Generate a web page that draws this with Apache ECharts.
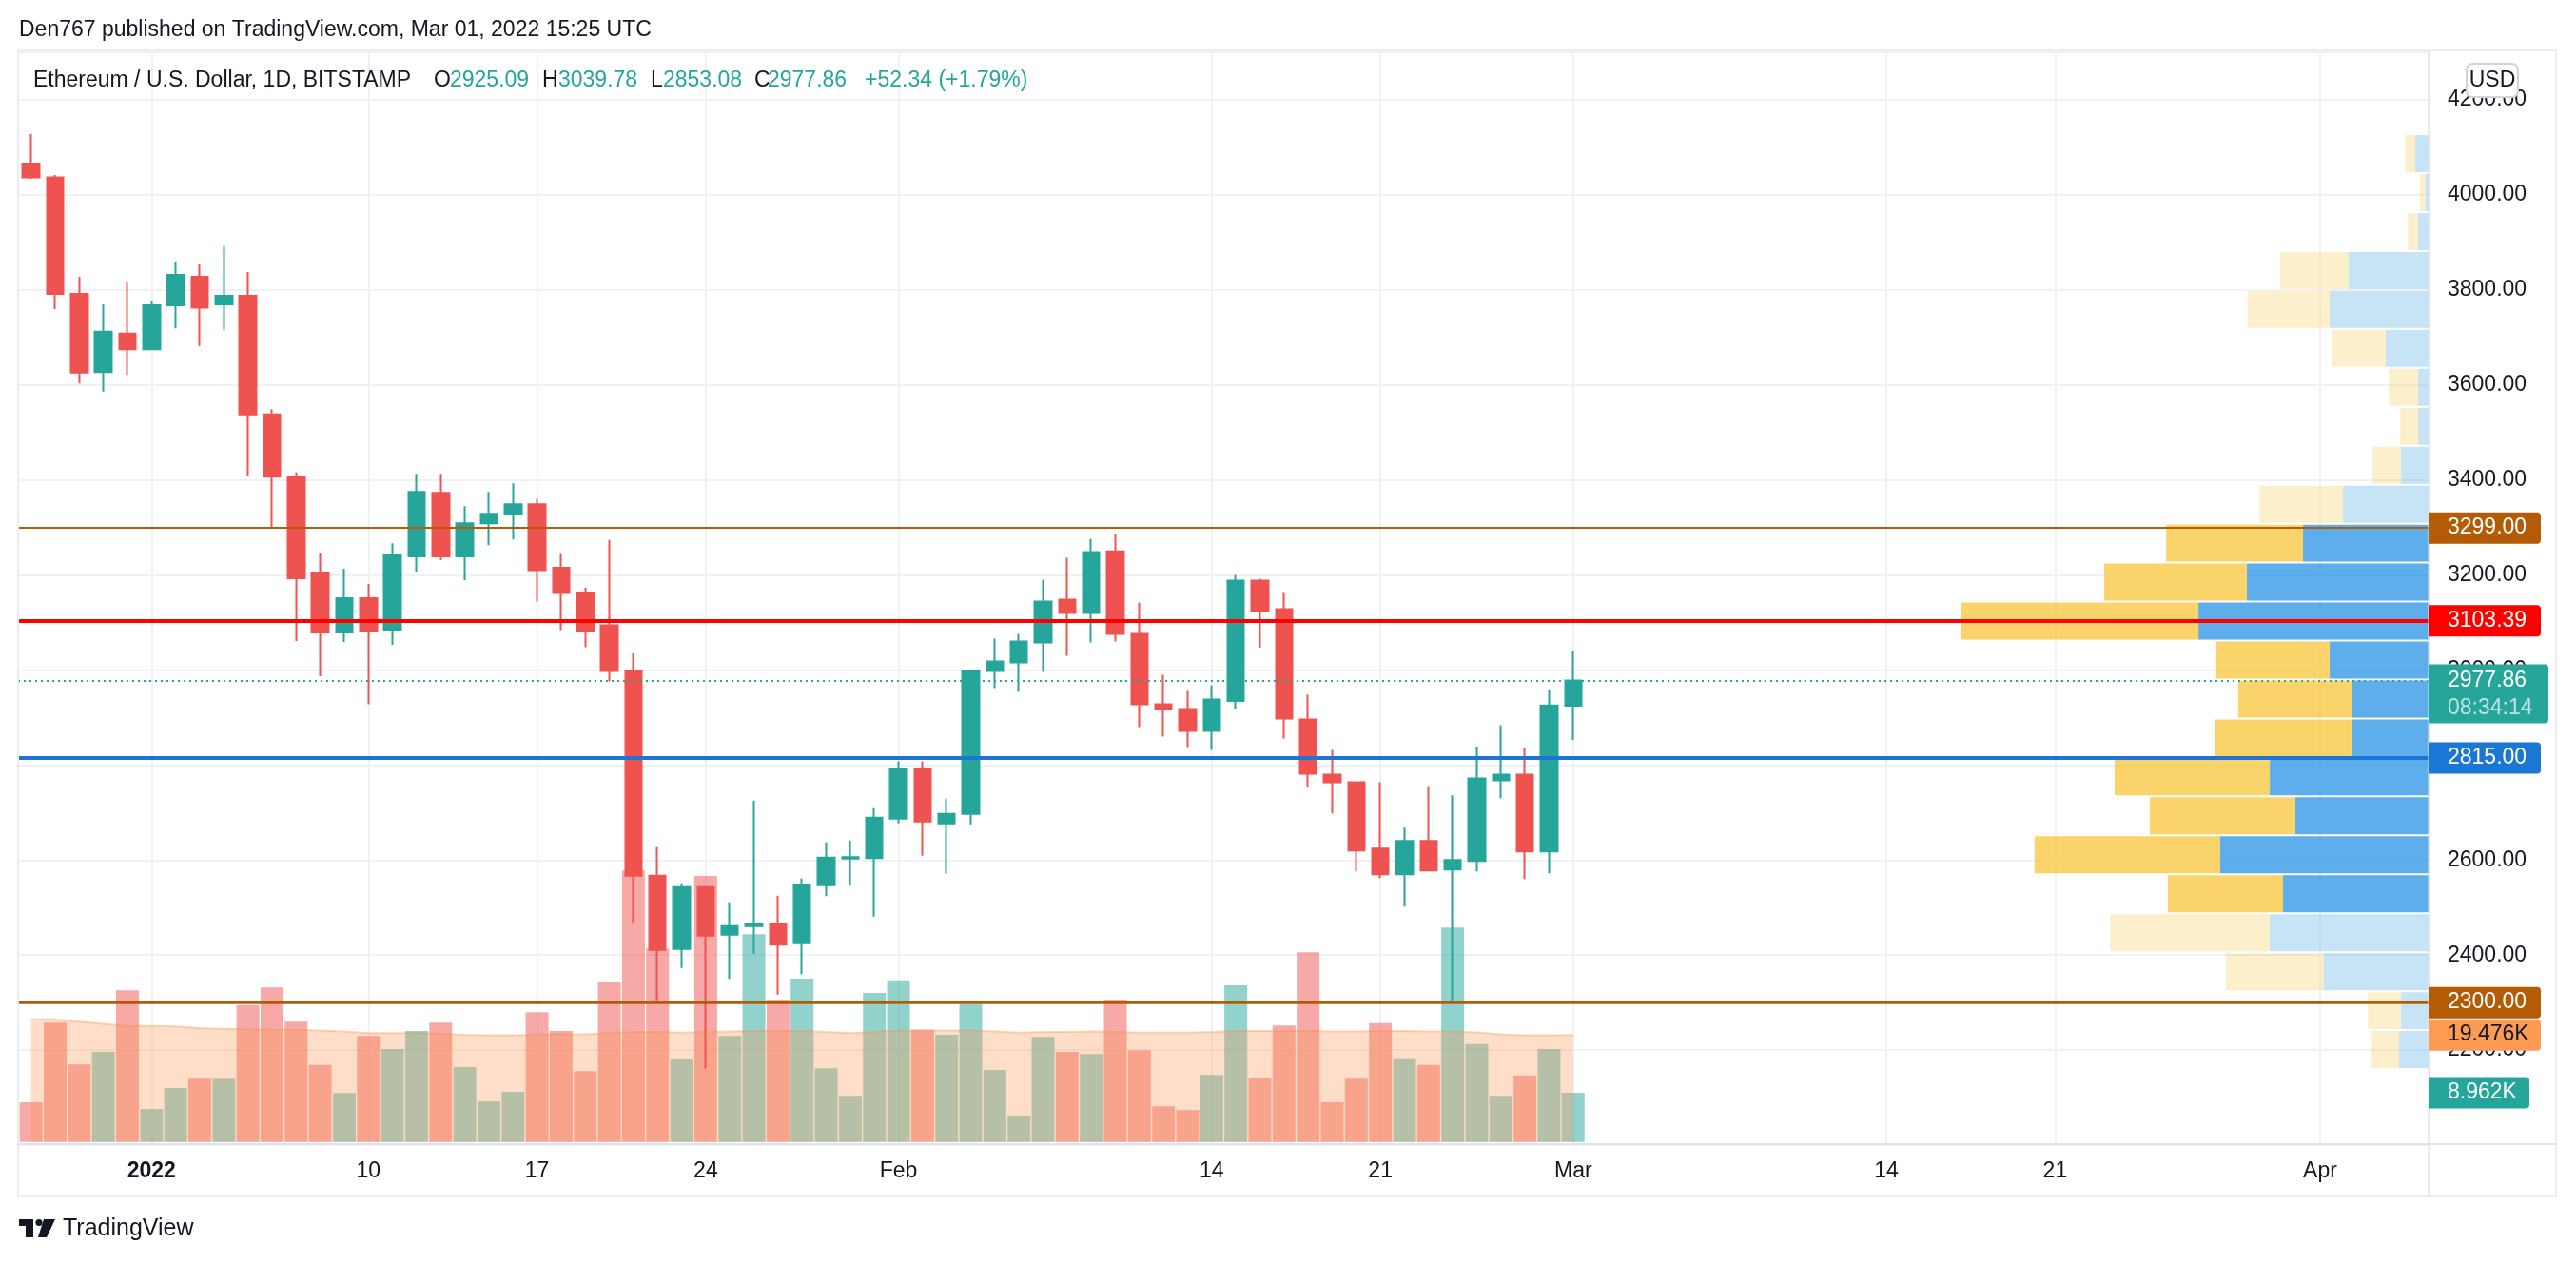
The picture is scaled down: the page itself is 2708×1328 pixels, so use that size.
<!DOCTYPE html>
<html>
<head>
<meta charset="utf-8">
<script src="https://cdn.jsdelivr.net/npm/echarts@6/dist/echarts.min.js"></script>
<style>
html,body{margin:0;padding:0;background:#ffffff;}
#c{width:2708px;height:1328px;}
</style>
</head>
<body>
<div id="c"></div>
<script>
// ---------------- DATA ----------------
// daily candles from 2021-12-27 to 2022-03-01 (65 days); axis extends to 2022-04-05
const opens  = [4066,4037,3792,3627,3708,3675,3768,3828,3770,3788,3538,3407,3205,3079,3151,3083,3239,3373,3239,3309,3328,3349,3215,3163,3094,2999,2567,2413,2543,2443,2461,2465,2425,2547,2603,2604,2687,2793,2677,2697,2998,3016,3058,3148,3120,3250,3076,2928,2918,2872,2935,3188,3128,2896,2780,2764,2624,2570,2640,2580,2598,2768,2780,2618,2925.09];
const highs  = [4128,4042,3828,3770,3816,3778,3858,3854,3892,3838,3549,3416,3247,3213,3181,3267,3413,3413,3345,3375,3393,3360,3246,3173,3274,3035,2627,2551,2545,2511,2725,2525,2561,2637,2641,2709,2808,2808,2729,2999,3066,3076,3190,3236,3276,3286,3142,2990,2956,2968,3200,3192,3164,2948,2832,2766,2764,2668,2756,2736,2839,2884,2836,2958,3039.78];
const lows   = [4034,3760,3603,3586,3621,3673,3719,3682,3716,3409,3300,3061,2987,3059,2928,3053,3207,3231,3189,3263,3275,3144,3084,3048,2976,2467,2301,2373,2161,2350,2403,2317,2360,2524,2546,2481,2677,2609,2571,2675,2962,2954,2996,3030,3058,3060,2880,2860,2838,2832,2917,3047,2856,2754,2698,2576,2562,2502,2577,2302,2576,2730,2560,2572,2853.08];
const closes = [4037,3792,3626,3712,3675,3768,3832,3763,3788,3538,3407,3193,3079,3151,3081,3243,3375,3239,3309,3329,3349,3210,3162,3081,2998,2567,2411,2543,2441,2461,2465,2422,2547,2605,2606,2689,2791,2681,2697,2997,3018,3060,3144,3120,3248,3076,2928,2917,2872,2938,3188,3123,2898,2782,2764,2620,2570,2640,2578,2600,2772,2780,2618,2925.52,2977.86];
// volume in thousands
const volumes = [7.2,21.7,14.1,16.4,27.6,6.0,9.8,11.5,11.5,24.9,28.1,21.9,14.0,8.9,19.3,16.9,20.2,21.7,13.6,7.4,9.1,23.6,20.2,12.9,29.0,49.4,35.2,15.0,48.4,19.3,37.8,25.9,29.7,13.4,8.4,27.1,29.4,20.4,19.5,25.1,13.1,4.8,19.1,16.4,16.0,25.9,16.7,6.5,5.8,12.2,28.5,11.7,21.2,34.5,7.2,11.5,21.6,15.2,14.0,39.0,17.8,8.4,12.1,16.9,8.962];
const volumeMA = [22.3,22.3,21.9,21.5,21.1,21.1,21.0,20.7,20.6,20.5,20.4,20.4,20.3,20.1,19.8,19.8,19.8,19.7,19.5,19.4,19.4,19.5,19.6,19.6,19.8,20.0,20.0,19.9,20.0,20.1,20.2,20.2,20.2,20.0,19.8,20.0,20.3,20.3,20.3,20.3,20.1,19.9,20.0,20.0,20.1,20.0,19.9,19.9,19.9,20.0,20.2,20.2,20.2,20.2,20.1,20.1,20.2,20.2,20.1,20.1,19.95,19.6,19.4,19.43,19.476];
// volume profile rows (bottom to top)
const profileLow  = [2160,2242,2324,2406,2488,2570,2652,2734,2816,2898,2980,3062,3144,3226,3308,3390,3472,3554,3636,3718,3800,3882,3964,4046];
const profileHigh = [2242,2324,2406,2488,2570,2652,2734,2816,2898,2980,3062,3144,3226,3308,3390,3472,3554,3636,3718,3800,3882,3964,4046,4128];
const profileUp   = [12.2,11.4,43.6,65.9,60.4,86.5,55.3,65.9,32.0,31.6,41.1,95.5,75.4,52.1,35.5,11.4,4.3,4.3,17.8,41.1,33.2,4.3,1.2,5.5];
const profileDown = [11.8,13.8,40.5,66.3,47.8,77.0,60.4,64.4,56.5,47.4,47.0,98.7,59.2,56.8,34.7,11.8,7.5,12.2,22.5,34.0,28.4,4.3,2.4,4.3];
const valueArea   = [0,0,0,0,1,1,1,1,1,1,1,1,1,1,0,0,0,0,0,0,0,0,0,0];
// drawn horizontal levels
const levels = [3299, 3103.39, 2815, 2300];
// time axis ticks
const tickDates  = ['2022-01-01','2022-01-10','2022-01-17','2022-01-24','2022-02-01','2022-02-14','2022-02-21','2022-03-01','2022-03-14','2022-03-21','2022-04-01'];
const tickLabels = ['2022','10','17','24','Feb','14','21','Mar','14','21','Apr'];

// ---------------- BUILD ----------------
const FONT = '"Liberation Sans", Arial, sans-serif';
const TXT = '#131722';
const UP = '#26a69a', DOWN = '#ef5350';

const categories = [];
(function(){
  const start = Date.UTC(2021, 11, 27);
  for (let i = 0; i < 100; i++) categories.push(new Date(start + i * 86400000).toISOString().slice(0, 10));
})();
const tickMap = {};
tickDates.forEach((d, i) => { tickMap[d] = tickLabels[i]; });

const candleData = opens.map((o, i) => [o, closes[i], lows[i], highs[i]]);
const volData = volumes.map((v, i) => ({
  value: v,
  itemStyle: { color: closes[i] >= opens[i] ? 'rgba(38,166,154,0.5)' : 'rgba(239,83,80,0.5)' }
}));
const profileData = profileLow.map((lo, k) => [lo, profileHigh[k], profileUp[k], profileDown[k], valueArea[k]]);
const lastClose = closes[closes.length - 1];

function renderProfile(params, api) {
  const lo = api.value(0), hi = api.value(1), up = api.value(2), dn = api.value(3), va = api.value(4);
  const a = api.coord([0, hi]);
  const b = api.coord([up, lo]);
  const c = api.coord([up + dn, lo]);
  const top = a[1] + 1, h = (b[1] - a[1]) - 2;
  return {
    type: 'group',
    children: [
      { type: 'rect', shape: { x: b[0], y: top, width: a[0] - b[0], height: h },
        style: { fill: va ? 'rgba(39,147,227,0.75)' : 'rgba(68,162,225,0.3)' } },
      { type: 'rect', shape: { x: c[0], y: top, width: b[0] - c[0], height: h },
        style: { fill: va ? 'rgba(248,198,58,0.75)' : 'rgba(245,202,85,0.3)' } }
    ]
  };
}

const chart = echarts.init(document.getElementById('c'), null, { renderer: 'canvas' });

const GL = 20, GW = 2533;
const option = {
  animation: false,
  backgroundColor: '#ffffff',
  textStyle: { fontFamily: FONT },
  grid: [
    { left: GL, width: GW, top: 55.15, height: 1148.85 },
    { left: GL, width: GW, top: 622.8, height: 577.9 },
    { left: GL, width: GW, top: 55.15, height: 1148.85 }
  ],
  xAxis: [
    {
      type: 'category', gridIndex: 0, data: categories, boundaryGap: true,
      axisLine: { show: false }, axisTick: { show: false }, splitLine: { show: false },
      axisLabel: {
        interval: (i, v) => tickMap[v] !== undefined,
        formatter: v => (v === '2022-01-01' ? '{b|2022}' : (tickMap[v] || '')),
        color: TXT, fontSize: 23, fontFamily: FONT, margin: 16,
        rich: { b: { fontWeight: 'bold', fontSize: 23, fontFamily: FONT, color: TXT } }
      }
    },
    { type: 'category', gridIndex: 1, data: categories, show: false },
    { type: 'value', gridIndex: 2, min: 0, max: 1000, inverse: true, show: false }
  ],
  yAxis: [
    {
      type: 'value', gridIndex: 0, position: 'right', min: 2000, max: 4300, interval: 200,
      axisLine: { show: false }, axisTick: { show: false },
      splitLine: { show: true, lineStyle: { color: '#f0f1f4', width: 2 } },
      axisLabel: {
        align: 'left', margin: 20, color: TXT, fontSize: 23, fontFamily: FONT,
        formatter: v => ((v % 200 === 0 && v > 2000 && v <= 4200) ? v.toFixed(2) : '')
      }
    },
    { type: 'value', gridIndex: 1, min: 0, max: 100, show: false },
    { type: 'value', gridIndex: 2, min: 2000, max: 4300, show: false }
  ],
  series: [
    {
      type: 'line', xAxisIndex: 0, yAxisIndex: 0, data: [], z: 0, silent: true,
      markLine: {
        z: 0, silent: true, animation: false, symbol: ['none', 'none'], label: { show: false },
        lineStyle: { color: '#f0f1f4', width: 2, type: 'solid' },
        data: tickDates.map(d => ({ xAxis: d }))
      }
    },
    {
      type: 'bar', xAxisIndex: 1, yAxisIndex: 1, data: volData, barWidth: 24, z: 1, silent: true
    },
    {
      type: 'line', xAxisIndex: 1, yAxisIndex: 1, data: volumeMA, symbol: 'none', showSymbol: false, z: 2, silent: true,
      lineStyle: { color: 'rgba(250,140,60,0.35)', width: 2 },
      areaStyle: { color: 'rgba(251,157,89,0.48)' }
    },
    {
      type: 'custom', xAxisIndex: 2, yAxisIndex: 2, data: profileData, renderItem: renderProfile,
      encode: { x: [2, 3], y: [0, 1] }, z: 2, silent: true
    },
    {
      type: 'candlestick', xAxisIndex: 0, yAxisIndex: 0, data: candleData, barWidth: 18, z: 3, silent: true,
      itemStyle: { color: UP, color0: DOWN, borderColor: UP, borderColor0: DOWN, borderWidth: 2 }
    },
    {
      type: 'line', xAxisIndex: 2, yAxisIndex: 2, data: [], z: 10, silent: true,
      markLine: {
        z: 10, silent: true, animation: false, symbol: ['none', 'none'], label: { show: false },
        data: [
          { yAxis: levels[0], lineStyle: { color: '#b35c05', width: 2, type: 'solid' } },
          { yAxis: levels[1], lineStyle: { color: '#ff0000', width: 4, type: 'solid' } },
          { yAxis: levels[2], lineStyle: { color: '#1e74d3', width: 4, type: 'solid' } },
          { yAxis: levels[3], lineStyle: { color: '#b35c05', width: 3.5, type: 'solid' } },
          { yAxis: lastClose, lineStyle: { color: '#26a69a', width: 2, type: [2, 4] } }
        ]
      }
    }
  ]
};
chart.setOption(option);

// ---------------- OVERLAY GRAPHICS ----------------
const py = v => chart.convertToPixel({ yAxisIndex: 0 }, v);
const vy = v => chart.convertToPixel({ yAxisIndex: 1 }, v);
const AX = 2553;
const g = [];
function txt(x, y, text, fill, size, extra) {
  return Object.assign({ type: 'text', x: x, y: y, z: 100,
    style: Object.assign({ text: text, fill: fill, fontSize: size, fontFamily: FONT, verticalAlign: 'middle', align: 'left' }, extra || {}) });
}
function tag(yc, text, bg, fg, w) {
  g.push({ type: 'rect', z: 100, shape: { x: AX, y: yc - 16.5, width: w, height: 33, r: [0, 4, 4, 0] }, style: { fill: bg } });
  g.push(txt(2573, yc, text, fg, 23));
}
// frame
g.push({ type: 'rect', z: 99, shape: { x: 19, y: 53, width: 2668, height: 1205 }, style: { fill: 'none', stroke: '#ebedf1', lineWidth: 2 } });
g.push({ type: 'line', z: 99, shape: { x1: AX + 0.5, y1: 53, x2: AX + 0.5, y2: 1258 }, style: { stroke: '#e0e3eb', lineWidth: 2 } });
g.push({ type: 'line', z: 99, shape: { x1: 19, y1: 1203, x2: 2687, y2: 1203 }, style: { stroke: '#e0e3eb', lineWidth: 2 } });
// level tags
const levelColors = ['#b35c05', '#ff0000', '#1c76d3', '#b35c05'];
levels.forEach((lv, i) => tag(py(lv), lv.toFixed(2), levelColors[i], '#ffffff', 118));
// last price tag with countdown
const ly = py(lastClose);
g.push({ type: 'rect', z: 100, shape: { x: AX, y: ly - 17, width: 126, height: 62, r: [0, 4, 4, 0] }, style: { fill: '#26a69a' } });
g.push(txt(2573, ly, lastClose.toFixed(2), '#ffffff', 23));
g.push(txt(2573, ly + 29, '08:34:14', 'rgba(255,255,255,0.7)', 23));
// volume tags
const maLast = volumeMA[volumeMA.length - 1], volLast = volumes[volumes.length - 1];
tag(vy(maLast), maLast.toFixed(3) + 'K', '#ff9a52', TXT, 118);
tag(vy(volLast), volLast.toFixed(3) + 'K', '#26a69a', '#ffffff', 106);
// USD box
g.push({ type: 'rect', z: 101, shape: { x: 2593, y: 67, width: 54, height: 35, r: 6 }, style: { fill: '#ffffff', stroke: '#d1d4dc', lineWidth: 2 } });
g.push(txt(2620, 85, 'USD', TXT, 23, { align: 'center' }));
g[g.length - 1].z = 102;
// header
g.push(txt(20, 32, 'Den767 published on TradingView.com, Mar 01, 2022 15:25 UTC', TXT, 23));
// legend
const n = opens.length - 1;
const chg = closes[n] - closes[n - 1];
const pct = chg / closes[n - 1] * 100;
const VC = '#26a69a';
g.push(txt(35, 85, 'Ethereum / U.S. Dollar, 1D, BITSTAMP', TXT, 23));
g.push(txt(456, 85, 'O', TXT, 23)); g.push(txt(473, 85, opens[n].toFixed(2), VC, 23));
g.push(txt(570, 85, 'H', TXT, 23)); g.push(txt(587, 85, highs[n].toFixed(2), VC, 23));
g.push(txt(684, 85, 'L', TXT, 23)); g.push(txt(697, 85, lows[n].toFixed(2), VC, 23));
g.push(txt(793, 85, 'C', TXT, 23)); g.push(txt(807, 85, closes[n].toFixed(2), VC, 23));
g.push(txt(909, 85, (chg >= 0 ? '+' : '') + chg.toFixed(2) + ' (' + (pct >= 0 ? '+' : '') + pct.toFixed(2) + '%)', VC, 23));
// TradingView logo
g.push({ type: 'rect', z: 100, shape: { x: 20, y: 1282, width: 15, height: 7 }, style: { fill: TXT } });
g.push({ type: 'rect', z: 100, shape: { x: 27, y: 1282, width: 8, height: 19 }, style: { fill: TXT } });
g.push({ type: 'circle', z: 100, shape: { cx: 41, cy: 1285.5, r: 3.6 }, style: { fill: TXT } });
g.push({ type: 'polygon', z: 100, shape: { points: [[46, 1282], [58, 1282], [49, 1301], [40, 1301]] }, style: { fill: TXT } });
g.push(txt(66, 1292, 'TradingView', TXT, 25));

chart.setOption({ graphic: { elements: g } });
</script>
</body>
</html>
